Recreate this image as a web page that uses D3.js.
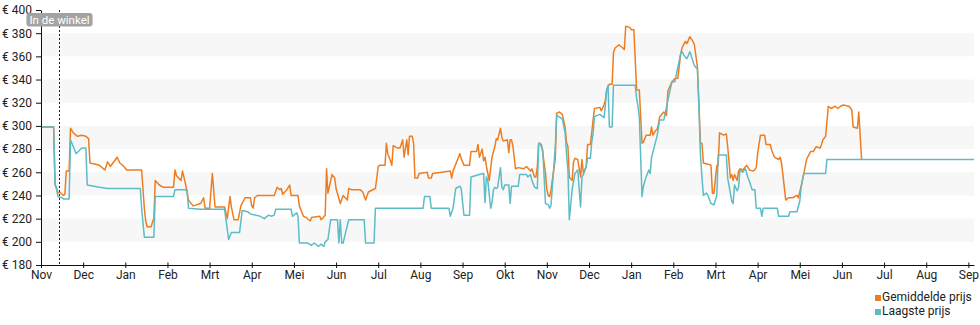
<!DOCTYPE html>
<html>
<head>
<meta charset="utf-8">
<script src="https://cdn.jsdelivr.net/npm/d3@7"></script>
<style>
  html, body { margin: 0; padding: 0; background: #fff; }
  svg { display: block; font-family: Roboto, "Noto Sans", sans-serif; }
</style>
</head>
<body>
<svg id="chart" width="980" height="325"></svg>
<script>
// Month labels along the time axis, starting November 2021
const monthLabels = ["Nov","Dec","Jan","Feb","Mrt","Apr","Mei","Jun","Jul","Aug","Sep","Okt",
                     "Nov","Dec","Jan","Feb","Mrt","Apr","Mei","Jun","Jul","Aug","Sep"];
const firstMonth = "2021-11-01";
const lastDate = "2023-09-05";

// Price axis
const priceTicks = [180,200,220,240,260,280,300,320,340,360,380,400];
const shadedBands = [[200,220],[240,260],[280,300],[320,340],[360,380]];

// Store-arrival marker
const storeDate = "2021-11-14";
const storeLabel = "In de winkel";

const seriesNames = ["Gemiddelde prijs", "Laagste prijs"];
const seriesColors = ["#ee7d21", "#5dbcc6"];

// Average price per day
const gemiddeldePrijs = [
  ["2021-11-01",299],["2021-11-10",299],["2021-11-11",250],["2021-11-12",246],["2021-11-13",242],
  ["2021-11-14",243],["2021-11-16",241],["2021-11-17",240],["2021-11-18",241],["2021-11-19",261],
  ["2021-11-21",261],["2021-11-22",298],["2021-11-24",294],["2021-11-27",291],["2021-11-30",292],
  ["2021-12-03",291],["2021-12-05",289],["2021-12-06",268],["2021-12-10",267],["2021-12-13",266],
  ["2021-12-17",262],["2021-12-19",269],["2021-12-21",265],["2021-12-26",273],["2021-12-28",268],
  ["2021-12-31",265],["2022-01-02",262],["2022-01-13",262],["2022-01-15",229],["2022-01-16",218],
  ["2022-01-17",213],["2022-01-20",213],["2022-01-21",217],["2022-01-22",220],["2022-01-23",253],
  ["2022-01-26",249],["2022-01-29",247],["2022-02-05",247],["2022-02-06",262],["2022-02-07",257],
  ["2022-02-10",253],["2022-02-11",261],["2022-02-13",250],["2022-02-15",236],["2022-02-18",231],
  ["2022-02-23",233],["2022-02-25",238],["2022-02-26",229],["2022-03-01",229],["2022-03-03",259],
  ["2022-03-05",230],["2022-03-12",230],["2022-03-14",220],["2022-03-16",239],["2022-03-17",230],
  ["2022-03-19",219],["2022-03-22",219],["2022-03-24",231],["2022-03-27",238],["2022-03-31",238],
  ["2022-04-01",231],["2022-04-02",229],["2022-04-03",238],["2022-04-05",240],["2022-04-17",240],
  ["2022-04-19",247],["2022-04-21",245],["2022-04-22",246],["2022-04-23",241],["2022-04-26",245],
  ["2022-04-28",249],["2022-04-29",240],["2022-05-04",240],["2022-05-05",231],["2022-05-08",222],
  ["2022-05-10",221],["2022-05-13",218],["2022-05-14",221],["2022-05-20",222],["2022-05-21",219],
  ["2022-05-24",223],["2022-05-25",263],["2022-05-26",242],["2022-05-29",258],["2022-05-31",255],
  ["2022-06-01",246],["2022-06-04",233],["2022-06-06",240],["2022-06-09",236],["2022-06-10",246],
  ["2022-06-12",245],["2022-06-18",245],["2022-06-20",243],["2022-06-22",236],["2022-06-24",243],
  ["2022-06-29",246],["2022-07-01",265],["2022-07-02",266],["2022-07-06",266],["2022-07-07",285],
  ["2022-07-08",276],["2022-07-10",270],["2022-07-11",266],["2022-07-12",283],["2022-07-15",281],
  ["2022-07-17",281],["2022-07-19",288],["2022-07-20",273],["2022-07-22",288],["2022-07-23",275],
  ["2022-07-24",291],["2022-07-26",291],["2022-07-27",285],["2022-07-28",255],["2022-07-30",255],
  ["2022-07-31",259],["2022-08-06",260],["2022-08-07",255],["2022-08-09",255],["2022-08-10",259],
  ["2022-08-23",261],["2022-08-24",255],["2022-08-25",261],["2022-08-28",270],["2022-08-30",276],
  ["2022-08-31",272],["2022-09-02",266],["2022-09-06",266],["2022-09-07",278],["2022-09-11",278],
  ["2022-09-12",284],["2022-09-13",273],["2022-09-15",280],["2022-09-16",270],["2022-09-17",273],
  ["2022-09-18",265],["2022-09-20",253],["2022-09-22",273],["2022-09-23",278],["2022-09-24",282],
  ["2022-09-25",289],["2022-09-26",288],["2022-09-28",298],["2022-09-29",290],["2022-09-30",287],
  ["2022-10-03",288],["2022-10-04",277],["2022-10-05",288],["2022-10-06",288],["2022-10-07",283],
  ["2022-10-09",263],["2022-10-11",264],["2022-10-15",263],["2022-10-17",265],["2022-10-20",261],
  ["2022-10-21",263],["2022-10-23",256],["2022-10-24",256],["2022-10-25",265],["2022-10-26",285],
  ["2022-10-28",284],["2022-10-29",277],["2022-10-31",259],["2022-11-01",245],["2022-11-02",240],
  ["2022-11-03",239],["2022-11-04",245],["2022-11-07",272],["2022-11-08",311],["2022-11-10",312],
  ["2022-11-12",310],["2022-11-14",299],["2022-11-15",286],["2022-11-16",282],["2022-11-17",256],
  ["2022-11-19",253],["2022-11-20",269],["2022-11-21",272],["2022-11-23",271],["2022-11-25",256],
  ["2022-11-26",271],["2022-11-27",259],["2022-11-29",265],["2022-11-30",284],["2022-12-02",284],
  ["2022-12-03",294],["2022-12-04",305],["2022-12-05",315],["2022-12-09",316],["2022-12-10",313],
  ["2022-12-12",318],["2022-12-13",322],["2022-12-14",331],["2022-12-15",334],["2022-12-16",336],
  ["2022-12-18",336],["2022-12-19",363],["2022-12-20",367],["2022-12-23",370],["2022-12-26",367],
  ["2022-12-27",366],["2022-12-28",386],["2022-12-31",385],["2023-01-01",383],["2023-01-03",383],
  ["2023-01-05",331],["2023-01-07",331],["2023-01-09",285],["2023-01-10",286],["2023-01-12",292],
  ["2023-01-15",292],["2023-01-16",299],["2023-01-17",292],["2023-01-19",296],["2023-01-20",297],
  ["2023-01-21",301],["2023-01-22",308],["2023-01-25",312],["2023-01-27",309],["2023-01-28",330],
  ["2023-01-31",338],["2023-02-02",341],["2023-02-04",341],["2023-02-06",363],["2023-02-07",368],
  ["2023-02-09",373],["2023-02-10",371],["2023-02-11",374],["2023-02-12",377],["2023-02-14",373],
  ["2023-02-15",370],["2023-02-17",351],["2023-02-18",320],["2023-02-19",285],["2023-02-20",285],
  ["2023-02-21",268],["2023-02-24",267],["2023-02-26",266],["2023-02-27",242],["2023-02-28",242],
  ["2023-03-02",266],["2023-03-03",266],["2023-03-04",294],["2023-03-07",292],["2023-03-09",293],
  ["2023-03-10",282],["2023-03-12",255],["2023-03-13",258],["2023-03-14",253],["2023-03-15",258],
  ["2023-03-17",253],["2023-03-18",261],["2023-03-19",263],["2023-03-21",262],["2023-03-24",266],
  ["2023-03-26",262],["2023-03-29",261],["2023-03-31",264],["2023-04-01",276],["2023-04-03",292],
  ["2023-04-06",292],["2023-04-07",284],["2023-04-10",284],["2023-04-11",279],["2023-04-13",273],
  ["2023-04-16",271],["2023-04-17",273],["2023-04-18",268],["2023-04-19",258],["2023-04-21",236],
  ["2023-04-23",238],["2023-04-26",238],["2023-04-29",240],["2023-04-30",238],["2023-05-01",243],
  ["2023-05-02",248],["2023-05-04",259],["2023-05-06",271],["2023-05-09",278],["2023-05-11",278],
  ["2023-05-13",282],["2023-05-16",281],["2023-05-17",284],["2023-05-18",288],["2023-05-20",291],
  ["2023-05-22",317],["2023-05-24",315],["2023-05-27",317],["2023-05-29",315],["2023-05-31",317],
  ["2023-06-02",318],["2023-06-06",317],["2023-06-08",314],["2023-06-09",299],["2023-06-12",298],
  ["2023-06-13",312],["2023-06-15",271]
];

// Lowest price per day
const laagstePrijs = [
  ["2021-11-01",299],["2021-11-10",299],["2021-11-11",249],["2021-11-12",247],["2021-11-13",239],
  ["2021-11-16",238],["2021-11-17",237],["2021-11-21",237],["2021-11-22",288],["2021-11-26",276],
  ["2021-11-30",281],["2021-12-03",281],["2021-12-04",249],["2021-12-13",247],["2021-12-19",246],
  ["2022-01-12",246],["2022-01-13",229],["2022-01-15",204],["2022-01-22",204],["2022-01-23",239],
  ["2022-02-05",239],["2022-02-06",245],["2022-02-14",245],["2022-02-15",229],["2022-02-23",228],
  ["2022-03-12",228],["2022-03-15",202],["2022-03-17",208],["2022-03-23",208],["2022-03-25",227],
  ["2022-03-29",226],["2022-03-31",224],["2022-04-07",222],["2022-04-10",220],["2022-04-13",223],
  ["2022-04-15",222],["2022-04-17",223],["2022-04-18",228],["2022-04-29",228],["2022-04-30",222],
  ["2022-05-03",225],["2022-05-04",222],["2022-05-05",199],["2022-05-11",199],["2022-05-14",197],
  ["2022-05-16",199],["2022-05-19",196],["2022-05-21",198],["2022-05-23",196],["2022-05-24",200],
  ["2022-05-26",202],["2022-05-28",219],["2022-06-02",219],["2022-06-03",199],["2022-06-04",219],
  ["2022-06-05",199],["2022-06-06",199],["2022-06-08",209],["2022-06-10",219],["2022-06-21",219],
  ["2022-06-22",199],["2022-06-28",199],["2022-06-29",229],["2022-08-03",229],["2022-08-04",239],
  ["2022-08-08",239],["2022-08-09",229],["2022-08-22",229],["2022-08-23",222],["2022-08-25",229],
  ["2022-08-27",246],["2022-08-30",248],["2022-08-31",246],["2022-09-02",223],["2022-09-06",223],
  ["2022-09-07",256],["2022-09-13",258],["2022-09-16",259],["2022-09-17",234],["2022-09-18",256],
  ["2022-09-19",253],["2022-09-21",229],["2022-09-22",234],["2022-09-23",245],["2022-09-24",247],
  ["2022-09-25",246],["2022-09-26",247],["2022-09-28",264],["2022-09-29",247],["2022-09-30",245],
  ["2022-10-01",249],["2022-10-04",249],["2022-10-05",233],["2022-10-06",248],["2022-10-11",248],
  ["2022-10-12",258],["2022-10-17",258],["2022-10-18",256],["2022-10-20",258],["2022-10-21",253],
  ["2022-10-23",247],["2022-10-25",246],["2022-10-26",285],["2022-10-27",285],["2022-10-29",279],
  ["2022-10-31",233],["2022-11-02",232],["2022-11-03",229],["2022-11-04",232],["2022-11-07",282],
  ["2022-11-08",309],["2022-11-12",306],["2022-11-14",294],["2022-11-15",276],["2022-11-16",262],
  ["2022-11-17",219],["2022-11-19",245],["2022-11-21",259],["2022-11-23",262],["2022-11-25",230],
  ["2022-11-26",256],["2022-11-27",258],["2022-11-29",265],["2022-11-30",272],["2022-12-02",272],
  ["2022-12-03",286],["2022-12-04",293],["2022-12-05",308],["2022-12-09",310],["2022-12-12",307],
  ["2022-12-13",317],["2022-12-14",331],["2022-12-15",335],["2022-12-16",299],["2022-12-18",299],
  ["2022-12-19",335],["2023-01-04",335],["2023-01-05",324],["2023-01-06",317],["2023-01-07",308],
  ["2023-01-09",239],["2023-01-10",248],["2023-01-12",256],["2023-01-14",262],["2023-01-15",259],
  ["2023-01-16",273],["2023-01-20",291],["2023-01-22",305],["2023-01-25",305],["2023-01-28",322],
  ["2023-01-31",338],["2023-02-02",338],["2023-02-06",363],["2023-02-07",364],["2023-02-08",361],
  ["2023-02-10",358],["2023-02-12",364],["2023-02-13",360],["2023-02-15",352],["2023-02-17",349],
  ["2023-02-18",317],["2023-02-19",276],["2023-02-20",256],["2023-02-21",240],["2023-02-23",242],
  ["2023-02-24",240],["2023-02-26",233],["2023-02-28",232],["2023-03-02",240],["2023-03-03",275],
  ["2023-03-09",275],["2023-03-10",255],["2023-03-13",235],["2023-03-14",233],["2023-03-15",249],
  ["2023-03-17",244],["2023-03-18",247],["2023-03-19",262],["2023-03-21",260],["2023-03-23",263],
  ["2023-03-25",255],["2023-03-26",252],["2023-03-28",245],["2023-03-30",245],["2023-03-31",229],
  ["2023-04-03",229],["2023-04-04",222],["2023-04-05",229],["2023-04-15",229],["2023-04-16",222],
  ["2023-04-23",222],["2023-04-24",226],["2023-04-29",226],["2023-05-01",235],["2023-05-02",247],
  ["2023-05-04",259],["2023-05-20",259],["2023-05-21",271],["2023-09-05",271]
];

// ---- layout ----
const plot = { left: 41, right: 974, top: 10, bottom: 265 };
const parseDate = d3.timeParse("%Y-%m-%d");
const origin = parseDate(firstMonth);

// Months are spaced evenly; a date sits at its month index plus the fraction of that month elapsed.
function monthPosition(str) {
  const d = parseDate(str);
  const m = (d.getFullYear() - origin.getFullYear()) * 12 + d.getMonth() - origin.getMonth();
  const days = new Date(d.getFullYear(), d.getMonth() + 1, 0).getDate();
  return m + (d.getDate() - 1) / days;
}

const x = d3.scaleLinear()
  .domain([0, monthPosition(lastDate)])
  .range([plot.left, plot.right]);
const y = d3.scaleLinear()
  .domain([priceTicks[0], priceTicks[priceTicks.length - 1]])
  .range([plot.bottom, plot.top]);

const svg = d3.select("#chart");

// alternating grey bands
svg.append("g").selectAll("rect")
  .data(shadedBands)
  .join("rect")
  .attr("x", plot.left)
  .attr("width", plot.right - plot.left)
  .attr("y", d => y(d[1]))
  .attr("height", d => y(d[0]) - y(d[1]))
  .attr("fill", "#f7f7f7");

// price lines (lowest price drawn on top)
const line = d3.line()
  .x(d => x(monthPosition(d[0])))
  .y(d => y(d[1]));

[gemiddeldePrijs, laagstePrijs].forEach((series, i) => {
  svg.append("path")
    .datum(series)
    .attr("fill", "none")
    .attr("stroke", seriesColors[i])
    .attr("stroke-width", 1.5)
    .attr("stroke-linejoin", "round")
    .attr("d", line);
});

// y axis
const yAxis = svg.append("g")
  .attr("transform", `translate(${plot.left},0)`)
  .call(d3.axisLeft(y).tickValues(priceTicks).tickFormat(d => "€ " + d)
    .tickSizeInner(5).tickSizeOuter(0).tickPadding(4));
yAxis.selectAll("text").attr("font-size", 12).attr("fill", "#222")
  .attr("font-family", "Roboto, sans-serif");
yAxis.selectAll("line, path").attr("stroke", "#111");

// x axis
const xAxis = svg.append("g")
  .attr("transform", `translate(0,${plot.bottom})`)
  .call(d3.axisBottom(x).tickValues(d3.range(monthLabels.length)).tickFormat(i => monthLabels[i])
    .tickSizeInner(3).tickSizeOuter(0).tickPadding(2));
xAxis.selectAll(".tick line").attr("y1", -2.5);
xAxis.selectAll("text").attr("font-size", 12).attr("fill", "#222")
  .attr("font-family", "Roboto, sans-serif");
xAxis.selectAll("line, path").attr("stroke", "#111");

// store marker
const sx = Math.round(x(monthPosition(storeDate))) + 0.5;
svg.append("line")
  .attr("x1", sx).attr("x2", sx)
  .attr("y1", plot.top).attr("y2", plot.bottom)
  .attr("stroke", "#222").attr("stroke-width", 1)
  .attr("stroke-dasharray", "2,2");

const tag = svg.append("g");
const tagText = tag.append("text")
  .attr("x", sx).attr("y", 24)
  .attr("text-anchor", "middle")
  .attr("font-size", 11.5)
  .attr("fill", "#fff")
  .text(storeLabel);
const tw = tagText.node().getComputedTextLength();
tag.insert("rect", "text")
  .attr("x", sx - tw / 2 - 3).attr("y", 13)
  .attr("width", tw + 6).attr("height", 13.5)
  .attr("rx", 3)
  .attr("fill", "#a3a3a3");

// legend
const legend = svg.append("g").attr("transform", "translate(875,0)");
seriesNames.forEach((name, i) => {
  const ly = 301 + i * 14;
  legend.append("rect")
    .attr("x", 0).attr("y", ly - 6)
    .attr("width", 6).attr("height", 6)
    .attr("fill", seriesColors[i]);
  legend.append("text")
    .attr("x", 7).attr("y", ly)
    .attr("font-size", 12)
    .attr("fill", "#222")
    .text(name);
});
</script>
</body>
</html>
